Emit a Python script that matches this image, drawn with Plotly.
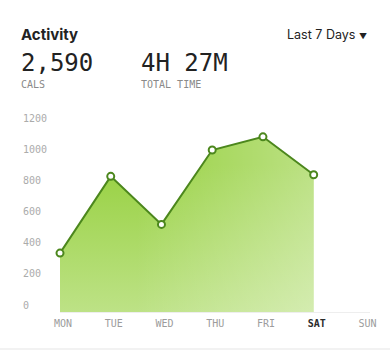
import plotly.graph_objects as go

days = ["MON", "TUE", "WED", "THU", "FRI", "SAT", "SUN"]
calories = [380, 875, 565, 1045, 1130, 885]
y_ticks = [0, 200, 400, 600, 800, 1000, 1200]
highlight_day = "SAT"

W, H = 390, 351
L, R, T, B = 60, 20, 110, 39
PW, PH = W - L - R, H - T - B

def px(x):
    return (x - L) / PW

def py(y):
    return (H - B - y) / PH

x_idx = list(range(len(calories)))
ticktext = [
    f'<span style="color:#2b2b2b"><b>{d}</b></span>' if d == highlight_day else d
    for d in days
]

fig = go.Figure()
fig.add_trace(go.Scatter(
    x=x_idx, y=calories, mode="none", fill="tozeroy",
    fillgradient=dict(type="vertical", start=0, stop=950,
                      colorscale=[[0, "#bde286"], [1, "#98d142"]]),
    hoverinfo="skip", showlegend=False,
))
fig.add_trace(go.Scatter(
    x=x_idx, y=calories, mode="none", fill="tozeroy",
    fillgradient=dict(type="horizontal",
                      colorscale=[[0, "rgba(255,255,255,0)"], [0.3, "rgba(255,255,255,0)"],
                                  [1, "rgba(255,255,255,0.35)"]]),
    hoverinfo="skip", showlegend=False,
))
fig.add_trace(go.Scatter(
    x=x_idx, y=calories, mode="lines+markers",
    line=dict(color="#4c871d", width=2),
    marker=dict(size=7, color="white", line=dict(color="#4c871d", width=2)),
    cliponaxis=False, showlegend=False,
))

mono = "DejaVu Sans Mono"
fig.update_layout(
    width=W, height=H,
    margin=dict(l=L, r=R, t=T, b=B, pad=0),
    plot_bgcolor="white", paper_bgcolor="white",
    xaxis=dict(
        range=[0, 6.11], tickvals=list(range(len(days))), ticktext=ticktext,
        showgrid=False, zeroline=False, showline=True, linecolor="#eeeeee", linewidth=1,
        tickfont=dict(family=mono, size=10, color="#9c9c9c"),
        ticklabelshift=3, ticklabelstandoff=2,
        ticks="", fixedrange=True,
    ),
    yaxis=dict(
        range=[0, 1303], tickvals=y_ticks,
        showgrid=False, zeroline=False, showline=False,
        ticklabelposition="inside", ticklabelstandoff=-40, ticklabelshift=-7,
        tickfont=dict(family=mono, size=10, color="#ababab"),
        ticks="", fixedrange=True,
    ),
    shapes=[dict(type="line", xref="paper", yref="paper",
                 x0=px(0), x1=px(W), y0=py(349), y1=py(349),
                 line=dict(color="#eeeeee", width=1.5))],
)

def ann(text, x, y, size, family, color, xanchor="left", bold=False):
    fig.add_annotation(
        text=f"<b>{text}</b>" if bold else text,
        x=px(x), y=py(y), xref="paper", yref="paper",
        xanchor=xanchor, yanchor="middle", showarrow=False,
        font=dict(family=family, size=size, color=color),
    )

ann("Activity", 19, 35, 15, "Inter", "#222222", bold=True)
ann('Last 7 Days <span style="font-size:8px">▼</span>', 369, 34, 12.5, "Inter", "#222222", xanchor="right")
ann("2,590", 19, 63, 24, mono, "#222222")
ann("4H 27M", 139, 63, 24, mono, "#222222")
ann("CALS", 19, 84, 10, mono, "#8a8a8a")
ann("TOTAL TIME", 139, 84, 10, mono, "#8a8a8a")

fig.write_html("out.html")
